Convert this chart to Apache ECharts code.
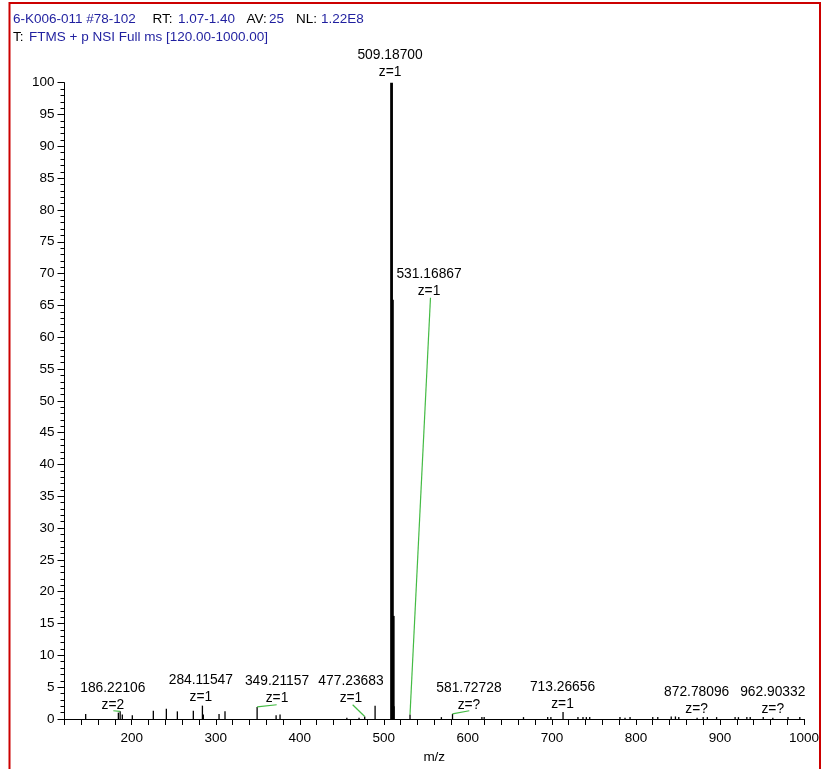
<!DOCTYPE html>
<html>
<head>
<meta charset="utf-8">
<script src="https://cdn.jsdelivr.net/npm/echarts@6/dist/echarts.min.js"></script>
<style>
  html, body { margin: 0; padding: 0; background: #fff; }
  #chart { width: 823px; height: 769px; }
</style>
</head>
<body>
<div id="chart"></div>
<script>
// ---------- DATA ----------
const peakMz = [145.2, 184.1, 186.22106, 188.8, 200.7, 225.7, 241.2, 254.3, 273.3, 284.11547, 285.2, 303.9, 311.0,
  349.21157, 371.8, 376.5, 456.0, 470.5, 477.23683, 489.6, 509.187, 510.19, 511.19, 512.19, 531.16867,
  568.5, 581.72728, 616.7, 619.4, 666.2, 695.0, 698.8, 713.26656, 731, 737, 741, 745, 781, 787, 793,
  820, 826, 842, 847, 851, 872.78096, 880, 885, 896, 918, 922, 932, 936, 951.5, 962.90332, 981, 995];
const peakInt = [0.8, 1.0, 1.2, 0.7, 0.6, 1.3, 1.6, 1.2, 1.3, 2.1, 0.7, 0.8, 1.2,
  1.9, 0.6, 0.7, 0.2, 0.2, 0.4, 2.1, 100, 65.9, 16.2, 2.0, 0.7,
  0.3, 0.8, 0.3, 0.3, 0.3, 0.3, 0.3, 1.1, 0.3, 0.3, 0.3, 0.3, 0.3, 0.2, 0.3,
  0.3, 0.3, 0.4, 0.4, 0.3, 0.2, 0.3, 0.3, 0.3, 0.3, 0.3, 0.3, 0.3, 0.3, 0.2, 0.3, 0.3];

// annotated peaks
const annotMz  = [186.22106, 284.11547, 349.21157, 477.23683, 509.187, 531.16867, 581.72728, 713.26656, 872.78096, 962.90332];
const annotInt = [1.2, 2.1, 1.9, 0.4, 100, 0.7, 0.8, 1.1, 0.2, 0.2];
const annotText = ['186.22106', '284.11547', '349.21157', '477.23683', '509.18700', '531.16867', '581.72728', '713.26656', '872.78096', '962.90332'];
const annotZ   = ['z=2', 'z=1', 'z=1', 'z=1', 'z=1', 'z=1', 'z=?', 'z=1', 'z=?', 'z=?'];

const xTicks = [200, 300, 400, 500, 600, 700, 800, 900, 1000];

// ---------- LAYOUT (label anchors in data units) ----------
const labelAnchor = [[177.5, 4.86], [282.2, 6.17], [372.9, 5.92], [460.9, 5.92], [507.4, 104.3],
  [553.8, 69.9], [601.3, 4.82], [712.6, 5.07], [872.3, 4.19], [962.8, 4.19]];
const leaderFrom = [[178.1, 1.30], null, [372.5, 2.24], [462.9, 2.24], null,
  [555.5, 66.2], [601.7, 1.30], null, null, null];

const FONT = '"Liberation Sans", Arial, sans-serif';
const BLUE = '#1f1f9f';

const chart = echarts.init(document.getElementById('chart'), null, { renderer: 'canvas' });

const stickData = peakMz.map((m, i) => [m, peakInt[i]]);
const annotData = annotMz.map((m, i) => [m, annotInt[i], i]);

function headerText(x, y, text, color) {
  return { type: 'text', x: x, y: y, silent: true,
    style: { text: text, fill: color, font: '13.5px ' + FONT, textVerticalAlign: 'middle', verticalAlign: 'middle' } };
}

const option = {
  animation: false,
  backgroundColor: '#fff',
  grid: { left: 64.5, right: 19, top: 82.7, bottom: 49, containLabel: false },
  xAxis: {
    type: 'value', min: 120, max: 1000, interval: 20,
    name: 'm/z', nameLocation: 'middle', nameGap: 31,
    nameTextStyle: { color: '#000', fontFamily: FONT, fontSize: 13.5 },
    axisLine: { show: true, lineStyle: { color: '#000', width: 1 } },
    axisTick: { show: true, length: 6, inside: false, lineStyle: { color: '#000', width: 1 } },
    axisLabel: { interval: 0, showMinLabel: true, showMaxLabel: true, margin: 12, color: '#000', fontFamily: FONT, fontSize: 13.5,
      formatter: v => (xTicks.indexOf(v) >= 0 ? String(v) : '') },
    splitLine: { show: false }
  },
  yAxis: {
    type: 'value', min: 0, max: 100, interval: 5,
    axisLine: { show: true, lineStyle: { color: '#000', width: 1 } },
    axisTick: { show: true, length: 7, lineStyle: { color: '#000', width: 1 } },
    minorTick: { show: true, splitNumber: 5, length: 4, lineStyle: { color: '#000', width: 1 } },
    axisLabel: { margin: 10, color: '#000', fontFamily: FONT, fontSize: 13.5 },
    splitLine: { show: false }
  },
  graphic: [
    { type: 'rect', silent: true, shape: { x: 9.5, y: 3, width: 810.5, height: 800 },
      style: { fill: 'none', stroke: '#cc0000', lineWidth: 2 } },
    headerText(13, 19, '6-K006-011 #78-102', BLUE),
    headerText(152.5, 19, 'RT:', '#000'),
    headerText(178, 19, '1.07-1.40', BLUE),
    headerText(246.5, 19, 'AV:', '#000'),
    headerText(269, 19, '25', BLUE),
    headerText(296, 19, 'NL:', '#000'),
    headerText(321, 19, '1.22E8', BLUE),
    headerText(13, 37, 'T:', '#000'),
    headerText(29, 37, 'FTMS + p NSI Full ms [120.00-1000.00]', BLUE)
  ],
  series: [
    {
      type: 'custom', name: 'sticks', clip: false,
      data: stickData,
      renderItem: function (params, api) {
        const x = api.value(0), y = api.value(1);
        const a = api.coord([x, 0]);
        const b = api.coord([x, y]);
        return { type: 'line', shape: { x1: a[0], y1: a[1], x2: b[0], y2: b[1] },
          style: { stroke: '#000', lineWidth: y > 10 ? 2.8 : 1.3 } };
      }
    },
    {
      type: 'custom', name: 'annotations', clip: false, z: 5,
      data: annotData,
      renderItem: function (params, api) {
        const i = api.value(2);
        const peakTop = api.coord([api.value(0), api.value(1)]);
        const c = api.coord(labelAnchor[i]);
        const children = [
          { type: 'text', style: { text: annotText[i], x: c[0], y: c[1], align: 'center', verticalAlign: 'middle',
              fill: '#000', font: '13.8px ' + FONT } },
          { type: 'text', style: { text: annotZ[i], x: c[0], y: c[1] + 17, align: 'center', verticalAlign: 'middle',
              fill: '#000', font: '13.8px ' + FONT } }
        ];
        if (leaderFrom[i]) {
          const s = api.coord(leaderFrom[i]);
          children.push({ type: 'line', shape: { x1: s[0], y1: s[1], x2: peakTop[0], y2: peakTop[1] },
            style: { stroke: '#44bb44', lineWidth: 1.2 } });
        }
        return { type: 'group', children: children };
      }
    }
  ]
};
chart.setOption(option);
</script>
</body>
</html>
